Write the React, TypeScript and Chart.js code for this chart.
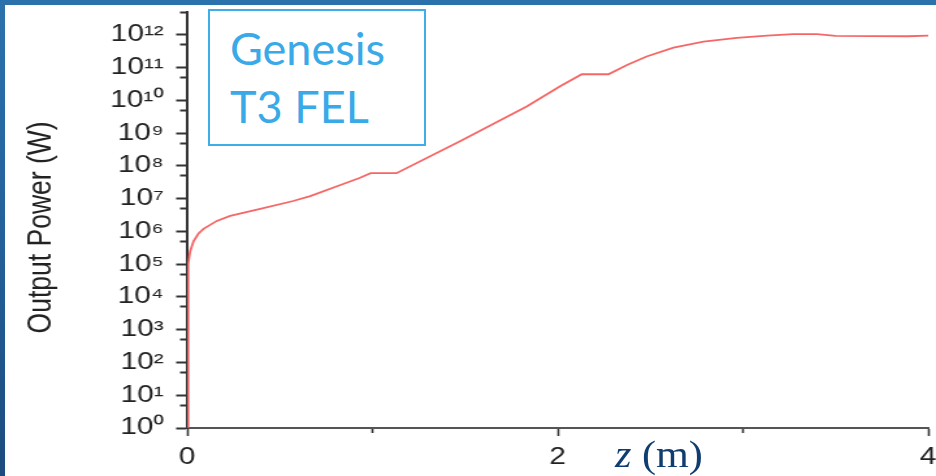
import React, { useEffect, useRef } from 'react';
import { Chart, registerables } from 'chart.js';

Chart.register(...registerables);

// ---- data ----
const zPositions = [
  0, 0.005, 0.016, 0.034, 0.06, 0.088, 0.16, 0.232, 0.394, 0.572, 0.664, 0.842, 0.93, 0.99,
  1.13, 1.47, 1.835, 2.013, 2.13, 2.274, 2.374, 2.48, 2.625, 2.787, 2.967, 3.13, 3.27, 3.4,
  3.5, 3.89, 4.0,
];
const outputPower = [
  1, 1e5, 2.5e5, 5e5, 8.5e5, 1.2e6, 2.1e6, 3e6, 4.9e6, 8.5e6, 1.2e7, 2.8e7, 4.3e7, 6e7,
  6e7, 5.6e8, 6.6e9, 2.7e10, 6.3e10, 6.3e10, 1.2e11, 2.2e11, 4.1e11, 6.2e11, 8.1e11, 9.5e11, 1.05e12, 1.05e12,
  9.3e11, 9.1e11, 9.5e11,
];

const xTickValues = [0, 1, 2, 3, 4];
const xTickLabels = ['0', '', '2', '', '4'];

const yMajorTicks = [1, 10, 100, 1e3, 1e4, 1e5, 1e6, 1e7, 1e8, 1e9, 1e10, 1e11, 1e12];
const yMajorLabels = [
  '10⁰', '10¹', '10²', '10³', '10⁴', '10⁵', '10⁶', '10⁷', '10⁸', '10⁹', '10¹⁰', '10¹¹', '10¹²',
];
const yMinorTicks = [5, 50, 500, 5e3, 5e4, 5e5, 5e6, 5e7, 5e8, 5e9, 5e10, 5e11, 5e12];

const yTitle = 'Output Power (W)';
const boxLines = ['Genesis', 'T3 FEL'];

// ---- layout ----
const PAGE_W = 936;
const PAGE_H = 476;
const STRETCH = 1.3;
const CANVAS_W = Math.round(PAGE_W / STRETCH);
const FONT = '"Liberation Sans", Arial, Helvetica, sans-serif';

export default function App() {
  const canvasRef = useRef<HTMLCanvasElement | null>(null);

  useEffect(() => {
    const canvas = canvasRef.current;
    if (!canvas) return;
    const points = zPositions.map((z, i) => ({ x: z, y: outputPower[i] }));
    const chart = new Chart(canvas, {
      type: 'line',
      data: {
        datasets: [
          {
            data: points,
            borderColor: 'rgba(244, 86, 86, 0.9)',
            borderWidth: 1.8,
            pointRadius: 0,
            fill: false,
            tension: 0,
          },
        ],
      },
      options: {
        responsive: false,
        animation: false,
        devicePixelRatio: 1,
        layout: { padding: { top: 12, right: 6, left: 0, bottom: 0 } },
        plugins: { legend: { display: false }, tooltip: { enabled: false }, title: { display: false } },
        scales: {
          x: {
            type: 'linear',
            min: 0,
            max: 4,
            afterBuildTicks: (s: any) => {
              s.ticks = xTickValues.map((v, i) => ({ value: v, major: xTickLabels[i] !== '' }));
            },
            afterFit: (s: any) => {
              s.height = 48;
              s.paddingLeft = 0;
              s.paddingRight = 0;
            },
            border: { display: true, color: '#555', width: 2 },
            grid: {
              drawOnChartArea: false,
              drawTicks: true,
              tickLength: 8,
              tickWidth: 1.6,
              tickColor: '#333',
              tickBorderDash: (ctx: any) => (ctx.tick && !ctx.tick.major ? [4, 100] : []),
            },
            ticks: {
              autoSkip: false,
              maxRotation: 0,
              padding: 7.5,
              color: '#222',
              font: { family: FONT, size: 23 },
              callback: (value: any) => {
                const i = xTickValues.indexOf(Number(value));
                return i >= 0 ? xTickLabels[i] : '';
              },
            },
          },
          y: {
            type: 'logarithmic',
            min: 1,
            max: 5e12,
            afterBuildTicks: (s: any) => {
              const all = [
                ...yMajorTicks.map((v) => ({ value: v, major: true })),
                ...yMinorTicks.map((v) => ({ value: v, major: false })),
              ];
              all.sort((a, b) => a.value - b.value);
              s.ticks = all;
            },
            afterFit: (s: any) => {
              s.width = 144;
              s.paddingTop = 0;
              s.paddingBottom = 0;
            },
            border: { display: true, color: '#333', width: 2 },
            grid: {
              drawOnChartArea: false,
              drawTicks: true,
              tickLength: 8.5,
              tickWidth: 2,
              tickColor: '#333',
              tickBorderDash: (ctx: any) => (ctx.tick && !ctx.tick.major ? [0, 3, 100, 0] : []),
            },
            ticks: {
              autoSkip: false,
              padding: 9.5,
              color: '#222',
              font: { family: FONT, size: 23 },
              callback: (value: any) => {
                const i = yMajorTicks.indexOf(Number(value));
                return i >= 0 ? yMajorLabels[i] : '';
              },
            },
            title: {
              display: true,
              text: yTitle + '  ',
              color: '#222',
              font: { family: FONT, size: 26.5 },
              padding: { top: 15.5, bottom: 0 },
            },
          },
        },
      },
    } as any);
    return () => chart.destroy();
  }, []);

  return (
    <div
      style={{
        position: 'fixed',
        left: 0,
        top: 0,
        width: PAGE_W,
        height: PAGE_H,
        overflow: 'hidden',
        background: 'linear-gradient(180deg, #2b72ad 0%, #24609a 50%, #1c4b7d 100%)',
      }}
    >
      <div
        style={{
          position: 'absolute',
          left: 5,
          top: 5,
          right: 0,
          bottom: 0,
          background: '#ffffff',
        }}
      />
      <canvas
        ref={canvasRef}
        width={CANVAS_W}
        height={PAGE_H}
        style={{ position: 'absolute', left: 0, top: 0, width: PAGE_W + 'px', height: PAGE_H + 'px' }}
      />
      <div
        style={{
          position: 'absolute',
          left: 208,
          top: 9,
          width: 218,
          height: 137,
          boxSizing: 'border-box',
          border: '2px solid #3daee9',
          background: '#ffffff',
          padding: '8px 0 0 20px',
          fontFamily: 'Lato, "Open Sans", sans-serif',
          fontSize: 45,
          lineHeight: '58px',
          color: '#3aa9e8',
          whiteSpace: 'nowrap',
        }}
      >
        {boxLines.map((t) => (
          <div key={t}>{t}</div>
        ))}
      </div>
      <div
        style={{
          position: 'absolute',
          left: 615,
          top: 436,
          fontFamily: '"Liberation Serif", "Times New Roman", serif',
          fontSize: 37,
          lineHeight: '37px',
          color: '#103d70',
          whiteSpace: 'nowrap',
          transform: 'scaleX(1.14)',
          transformOrigin: '0 0',
        }}
      >
        <i>z</i> (m)
      </div>
    </div>
  );
}
